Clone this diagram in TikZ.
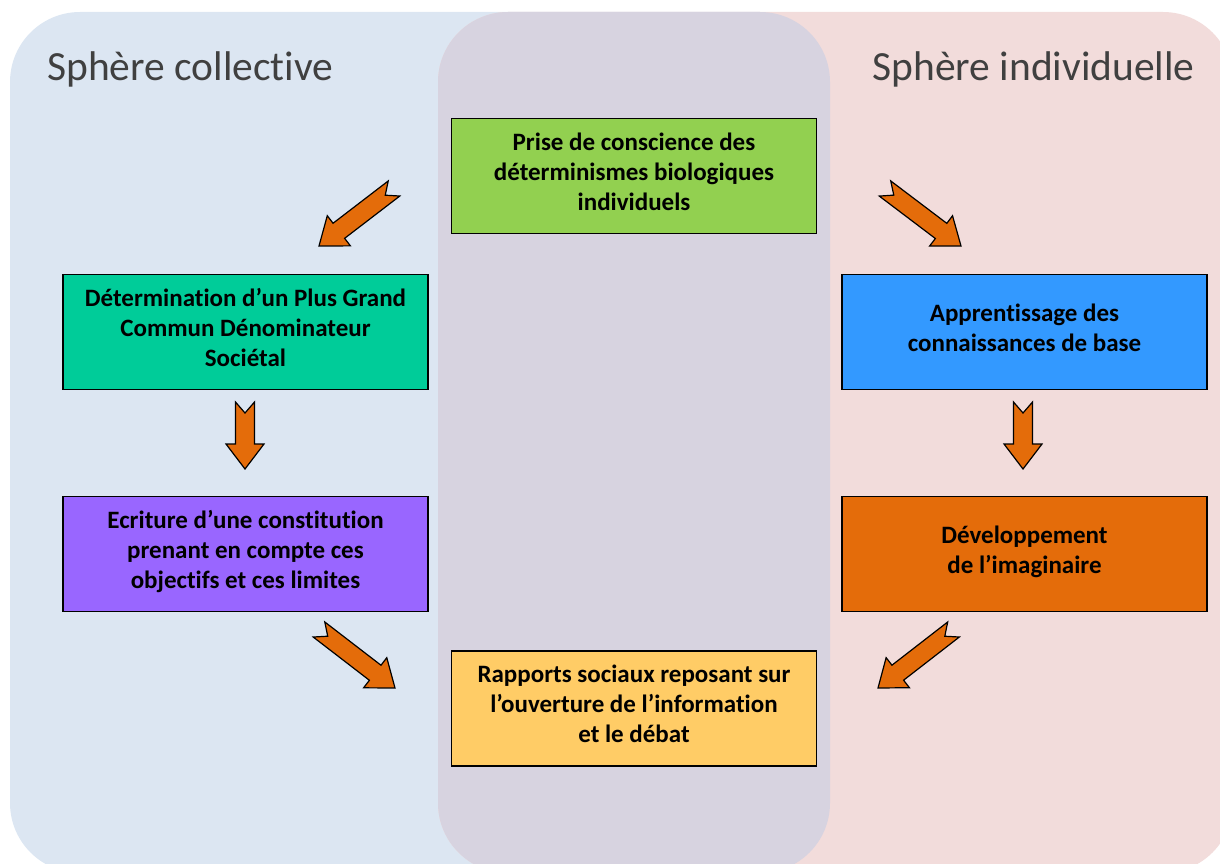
\documentclass[tikz,border=0pt]{standalone}
\usepackage{fontspec}
\setmainfont{Carlito}[Ligatures=NoCommon]
\usepackage{tikz}
\usetikzlibrary{calc,positioning}

\definecolor{bgblue}{HTML}{DCE6F2}
\definecolor{bgpink}{HTML}{F2DCDB}
\definecolor{bgmid}{HTML}{D7D3E0}
\definecolor{titlegray}{HTML}{404040}
\definecolor{cgreen}{HTML}{92D050}
\definecolor{cteal}{HTML}{00CC99}
\definecolor{cviolet}{HTML}{9966FF}
\definecolor{cblue}{HTML}{3399FF}
\definecolor{corange}{HTML}{E46C0A}
\definecolor{cyellow}{HTML}{FFCC66}

% notched block arrow from tail #1 to tip #2
\newcommand{\notcharrow}[2]{%
  \coordinate (#1b) at ($(#2)!25pt!(#1)$);
  \draw[blockarrow] ($(#1)!9.5pt!90:(#2)$) -- ($(#1)!11pt!(#2)$) -- ($(#1)!9.5pt!-90:(#2)$)
    -- ($(#1b)!9.5pt!-90:(#2)$) -- ($(#1b)!19pt!-90:(#2)$) -- (#2)
    -- ($(#1b)!19pt!90:(#2)$) -- ($(#1b)!9.5pt!90:(#2)$) -- cycle;}

\begin{document}
\begin{tikzpicture}[
                    x=1pt, y=-1pt,
                    box/.style={draw, line width=1.2pt, minimum width=365pt, minimum height=115pt, inner sep=0pt, text depth=9pt, align=center, font=\bfseries\fontsize{25}{30}\selectfont},
                    sphere/.style={text=titlegray, inner sep=0pt, font=\fontsize{41.5}{49}\selectfont},
                    blockarrow/.style={draw=black, line width=1.2pt, fill=corange, line join=miter}
                ]
                    \useasboundingbox (0,0) rectangle (1220,864);
                    \clip (0,0) rectangle (1220,864);

                    % Spheres
                    \fill[bgblue, rounded corners=70pt] (10,12) rectangle (830,873);
                    \fill[bgpink, rounded corners=70pt] (438,12) rectangle (1233,873);
                    \fill[bgmid, rounded corners=70pt] (438,12) rectangle (830,873);
                    \node[sphere, anchor=base west] (collective) at (47,81) {Sphère collective};
                    \node[sphere, anchor=base east] (individuelle) at (1195,81) {Sphère individuelle};

                    % Boxes
                    \node[box, fill=cgreen] (prise) at (634,176) {Prise de conscience des\\déterminismes biologiques\\individuels};
                    \node[box, fill=cteal] (pgcd) at (245.5,332) {Détermination d’un Plus Grand\\Commun Dénominateur\\Sociétal};
                    \node[box, fill=cviolet, below=106pt of pgcd] (ecriture) {Ecriture d’une constitution\\prenant en compte ces\\objectifs et ces limites};
                    \node[box, fill=cblue] (apprent) at (1024.5,332) {Apprentissage des\\connaissances de base};
                    \node[box, fill=corange, below=106pt of apprent] (imag) {Développement\\de l’imaginaire};
                    \node[box, fill=cyellow] (rapports) at (634,708.5) {Rapports sociaux reposant sur\\l’ouverture de l’information\\et le débat};

                    % Arrows
                    \coordinate (colA) at (394,188.5);   \coordinate (colB) at (319,246);
                    \coordinate (indA) at (885,188.5);   \coordinate (indB) at (961,246);
                    \coordinate (pgcdA) at (245,402);    \coordinate (pgcdB) at (245,469);
                    \coordinate (apprA) at (1023,402);   \coordinate (apprB) at (1023,469);
                    \coordinate (ecrA) at (319,629.5);   \coordinate (ecrB) at (395,688);
                    \coordinate (imagA) at (953.5,629.5); \coordinate (imagB) at (878,688);
                    \notcharrow{colA}{colB}
                    \notcharrow{indA}{indB}
                    \notcharrow{pgcdA}{pgcdB}
                    \notcharrow{apprA}{apprB}
                    \notcharrow{ecrA}{ecrB}
                    \notcharrow{imagA}{imagB}
                \end{tikzpicture}
\end{document}
